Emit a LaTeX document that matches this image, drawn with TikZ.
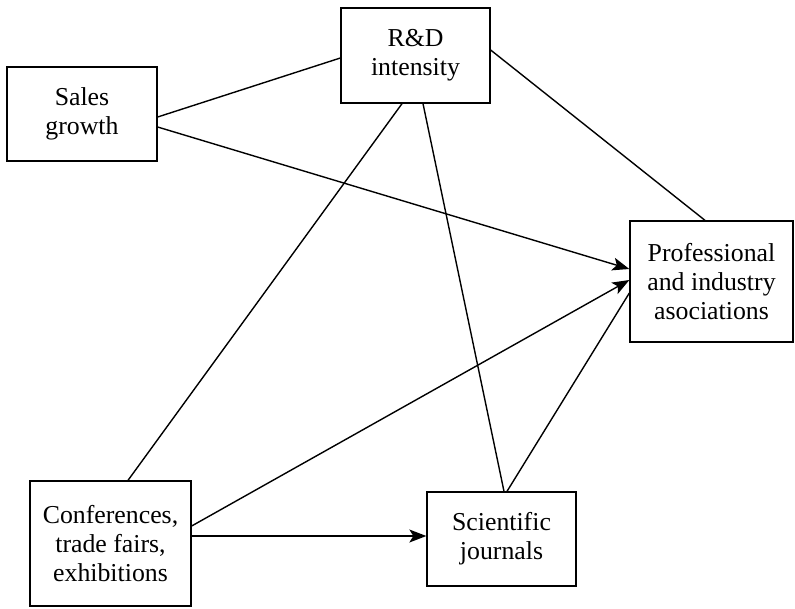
\documentclass[tikz,border=0pt]{standalone}
\usepackage{fontspec}
\setmainfont{Liberation Serif}
\usetikzlibrary{arrows.meta}
\begin{document}
\begin{tikzpicture}[x=1pt,y=-1pt,
  box/.style={draw, line width=1.3pt, inner sep=0pt, align=center,
    font=\fontsize{25.8}{29}\selectfont},
  conn/.style={line width=1.4pt},
  arr/.style={conn, -{Stealth[length=17pt,width=13pt,inset=4pt]}}]
\useasboundingbox (0,0) rectangle (795,608);
\node[box, minimum width=149pt, minimum height=95pt] (rd) at (415.5,55.5) {R\&D\\intensity};
\node[box, minimum width=150pt, minimum height=94pt] (sales) at (82,114) {Sales\\growth};
\node[box, minimum width=163pt, minimum height=121pt] (prof) at (711.5,281.5) {Professional\\and industry\\asociations};
\node[box, minimum width=161pt, minimum height=125pt] (conf) at (110.5,543.5) {Conferences,\\trade fairs,\\exhibitions};
\node[box, minimum width=149pt, minimum height=94pt] (sci) at (501.5,539) {Scientific\\journals};
\draw[conn] ([yshift=-3pt]sales.east) -- ([yshift=-2.5pt]rd.west);
\draw[arr] ([yshift=-13pt]sales.east) -- ([yshift=12.5pt]prof.west);
\draw[conn] ([yshift=5.5pt]rd.east) -- ([xshift=-6.5pt]prof.north);
\draw[conn] ([xshift=17.5pt]conf.north) -- ([xshift=-13.5pt]rd.south);
\draw[conn] ([xshift=7.5pt]rd.south) -- ([xshift=2.5pt]sci.north);
\draw[conn] ([xshift=5.5pt]sci.north) -- ([yshift=-11.5pt]prof.west);
\draw[arr] ([yshift=17.5pt]conf.east) -- ([yshift=1.5pt]prof.west);
\draw[arr] ([yshift=7.5pt]conf.east) -- ([yshift=3pt]sci.west);
\end{tikzpicture}
\end{document}
